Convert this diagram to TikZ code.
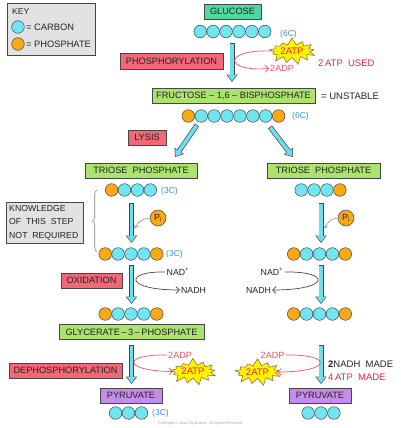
\documentclass[tikz,border=0pt]{standalone}
\usepackage{fontspec}
\setmainfont{Liberation Sans}
\usetikzlibrary{arrows.meta,shapes.symbols,decorations.pathreplacing}
\definecolor{cyanC}{RGB}{112,230,242}
\definecolor{orangeP}{RGB}{250,168,20}
\definecolor{outl}{RGB}{70,70,70}
\definecolor{greenB}{RGB}{172,226,110}
\definecolor{mintB}{RGB}{80,216,160}
\definecolor{redB}{RGB}{242,104,118}
\definecolor{purpB}{RGB}{198,140,236}
\definecolor{grayB}{RGB}{226,226,226}
\definecolor{blueT}{RGB}{60,140,225}
\definecolor{redT}{RGB}{230,35,60}
\definecolor{redL}{RGB}{238,80,100}
\definecolor{starY}{RGB}{255,242,0}
\definecolor{arrC}{RGB}{110,222,238}
\definecolor{txt}{RGB}{35,35,35}
\newcommand\crow[5]{%
  \foreach \t [count=\i] in {#5} {\node[\t] (#1\i) at ({#2+(\i-(#4+1)/2)*12.9},#3) {};}}
\newcommand\bigarrow[2]{%
  \draw[line width=5pt, draw=outl, -{Triangle[length=7.5pt,width=11pt]}] (#1) -- (#2);
  \draw[line width=3.6pt, draw=arrC, shorten <=0.7pt, shorten >=1pt, -{Triangle[length=6pt,width=8.6pt]}] (#1) -- (#2);}
\begin{document}
\begin{tikzpicture}[x=1pt,y=-1pt,
  box/.style={draw=outl, line width=0.6pt, inner sep=0pt, minimum height=15pt, text=txt, font=\fontsize{9.2}{10}\selectfont},
  greenbox/.style={box, fill=greenB},
  redbox/.style={box, fill=redB},
  purpbox/.style={box, fill=purpB},
  graybox/.style={box, fill=grayB},
  cb/.style={circle, draw=outl, line width=0.5pt, fill=cyanC, minimum size=12.6pt, inner sep=0pt},
  ph/.style={cb, fill=orangeP},
  lbl/.style={inner sep=0pt, text=txt, font=\fontsize{9}{10}\selectfont},
  clbl/.style={inner sep=0pt, text=blueT, font=\fontsize{8.5}{10}\selectfont},
  rlbl/.style={lbl, text=redT},
  burst/.style={starburst, starburst points=13, starburst point height=7.5pt, random starburst=7, fill=starY, draw=outl!60!orange, line width=0.5pt, inner sep=1.2pt, minimum width=32pt, minimum height=12pt, text=redT, font=\fontsize{9.5}{10}\selectfont},
  redcurve/.style={draw=redL, line width=0.7pt, -{Straight Barb[length=3.5pt,width=7pt]}},
  blackcurve/.style={draw=outl, line width=0.7pt, -{Straight Barb[length=3.5pt,width=7pt]}},
  picurve/.style={draw=gray, line width=0.5pt, -{Straight Barb[length=2.5pt,width=5pt]}},
  pic/.style={circle, draw=outl, line width=0.5pt, fill=orangeP, minimum size=16pt, inner sep=0pt, text=txt, font=\fontsize{9}{10}\selectfont}
]
\useasboundingbox (0,0) rectangle (400,428);

% key
\node[graybox, minimum width=88pt, minimum height=52pt] (key) at (51,29) {};
\node[lbl, anchor=west, font=\fontsize{8.5}{10}\selectfont] (keyt) at (12,12) {KEY};
\node[cb] (kc) at (18,27) {};
\node[ph] (kp) at (18,44) {};
\node[lbl, anchor=west, font=\fontsize{9.3}{10}\selectfont] (kct) at (26,27) {= CARBON};
\node[lbl, anchor=west, font=\fontsize{9.3}{10}\selectfont] (kpt) at (26,44) {= PHOSPHATE};

% glucose
\node[box, fill=mintB, minimum width=57pt] (glu) at (232.5,11.5) {GLUCOSE};
\crow{gl}{232.5}{31.5}{6}{cb,cb,cb,cb,cb,cb}
\node[clbl, anchor=west] (c6a) at (280,34) {(6C)};

\node[redbox, minimum width=103pt, minimum height=16pt] (phos) at (171.5,61) {PHOSPHORYLATION};
\coordinate (a0s) at (232,43);
\coordinate (a0e) at (232,82);
\bigarrow{a0s}{a0e}

\node[burst] (star1) at (292,51) {2ATP};
\node[lbl, text=redL] (adp1) at (282,68.5) {2ADP};
\draw[redcurve] (star1.west) .. controls (223,49) and (223,72) .. ([xshift=-1pt]adp1.west);
\node[rlbl, anchor=west, font=\fontsize{9.5}{10}\selectfont] (used) at (318,63) {2\,ATP\ \ USED};

% fructose
\node[greenbox, minimum width=163pt] (fru) at (233.5,95.5) {FRUCTOSE – 1,6 – BISPHOSPHATE};
\node[lbl, anchor=west, font=\fontsize{9.5}{10}\selectfont] (unst) at (321,96) {= UNSTABLE};
\crow{fr}{233.5}{116}{8}{ph,cb,cb,cb,cb,cb,cb,ph}
\node[clbl, anchor=west] (c6b) at (292,116) {(6C)};

\node[redbox, minimum width=38pt] (lys) at (147,137.5) {LYSIS};
\coordinate (dLs) at (197,125);
\coordinate (dLe) at (175,157);
\coordinate (dRs) at (270,127);
\coordinate (dRe) at (293,157);
\bigarrow{dLs}{dLe}
\bigarrow{dRs}{dRe}

% triose
\node[greenbox, minimum width=112pt] (triL) at (141,170.5) {TRIOSE\ \ PHOSPHATE};
\node[greenbox, minimum width=113pt] (triR) at (323.5,170.5) {TRIOSE\ \ PHOSPHATE};
\crow{tl}{131}{190}{4}{ph,cb,cb,cb}
\crow{tr}{320.5}{190}{4}{cb,cb,cb,ph}
\node[clbl, anchor=west] (c3a) at (161,191) {(3C)};

\coordinate (L1s) at (131.5,203);
\coordinate (L1e) at (131.5,243);
\coordinate (R1s) at (321,203);
\coordinate (R1e) at (321,243);
\bigarrow{L1s}{L1e}
\bigarrow{R1s}{R1e}
\node[pic] (pi1) at (158,218) {P\textsubscript{i}};
\node[pic] (pi2) at (346,218) {P\textsubscript{i}};
\coordinate (pi1t) at (135,228);
\coordinate (pi2t) at (324.5,228);
\draw[picurve] (pi1.west) to[bend right=30] (pi1t);
\draw[picurve] (pi2.west) to[bend right=30] (pi2t);

% knowledge
\node[graybox, minimum width=77pt, minimum height=41pt] (know) at (44.5,222.5) {};
\node[lbl, anchor=west, align=left, font=\fontsize{8.7}{13.5}\selectfont] (knowt) at (9,222.5) {KNOWLEDGE\\OF\ \ THIS\ \ STEP\\NOT\ \ REQUIRED};
\coordinate (brb) at (97,252);
\coordinate (brt) at (97,190);
\draw[draw=gray, line width=0.6pt, decorate, decoration={brace, amplitude=4.5pt}] (brb) -- (brt);

% row 2
\crow{rl}{131}{254}{5}{ph,cb,cb,cb,ph}
\crow{rr}{319.5}{254}{5}{ph,cb,cb,cb,ph}
\node[clbl, anchor=west] (c3b) at (166,254.5) {(3C)};

% oxidation
\node[redbox, minimum width=61pt] (oxi) at (91.5,280.5) {OXIDATION};
\coordinate (L2s) at (131.5,265);
\coordinate (L2e) at (131.5,304);
\coordinate (R2s) at (321,265);
\coordinate (R2e) at (321,304);
\bigarrow{L2s}{L2e}
\bigarrow{R2s}{R2e}
\node[lbl, font=\fontsize{8.8}{10}\selectfont] (nadp1) at (178,272) {NAD\textsuperscript{+}};
\node[lbl, font=\fontsize{8.8}{10}\selectfont] (nadh1) at (193.5,290) {NADH};
\node[lbl, font=\fontsize{8.8}{10}\selectfont] (nadp2) at (272,272) {NAD\textsuperscript{+}};
\node[lbl, font=\fontsize{8.8}{10}\selectfont] (nadh2) at (258.5,290) {NADH};
\draw[blackcurve] ([xshift=-1pt]nadp1.west) .. controls (124,271) and (124,290) .. ([xshift=-1pt]nadh1.west);
\draw[blackcurve] ([xshift=1pt]nadp2.east) .. controls (331,271) and (331,290) .. ([xshift=1pt]nadh2.east);

% row 3
\crow{sl}{131}{314}{5}{ph,cb,cb,cb,ph}
\crow{sr}{319.5}{314}{5}{ph,cb,cb,cb,ph}

\node[greenbox, minimum width=145pt] (gly) at (131.5,332) {GLYCERATE\,–\,3\,–\,PHOSPHATE};

% dephosphorylation
\node[redbox, minimum width=113pt] (deph) at (65.5,370.5) {DEPHOSPHORYLATION};
\coordinate (L3s) at (131.5,345);
\coordinate (L3e) at (131.5,384);
\coordinate (R3s) at (321,345);
\coordinate (R3e) at (321,384);
\bigarrow{L3s}{L3e}
\bigarrow{R3s}{R3e}
\node[burst] (star2) at (193,371.5) {2ATP};
\node[burst] (star3) at (257.5,372) {2ATP};
\node[lbl, text=redL] (adp2) at (180,355) {2ADP};
\node[lbl, text=redL] (adp3) at (272.5,355) {2ADP};
\draw[redcurve] ([xshift=-1pt]adp2.west) .. controls (122,354) and (122,371) .. (star2.west);
\draw[redcurve] ([xshift=1pt]adp3.east) .. controls (333,354) and (333,372) .. (star3.east);
\node[lbl, anchor=west, font=\fontsize{9.5}{10}\selectfont] (nadhm) at (328,364) {\textbf{2}NADH\ \ MADE};
\node[rlbl, anchor=west, font=\fontsize{9.5}{10}\selectfont] (atpm) at (328,377) {4\,ATP\ \ MADE};

% pyruvate
\node[purpbox, minimum width=62pt] (pyrL) at (131,395.5) {PYRUVATE};
\node[purpbox, minimum width=62pt] (pyrR) at (320,395.5) {PYRUVATE};
\crow{pl}{128.5}{413}{3}{cb,cb,cb}
\crow{pr}{321}{413}{3}{cb,cb,cb}
\node[clbl, anchor=west] (c3c) at (152,413.5) {(3C)};

\node[inner sep=0pt, text=gray!70, font=\fontsize{3.8}{4}\selectfont] (copy) at (200,424) {Copyright © Save My Exams. All Rights Reserved};
\end{tikzpicture}
\end{document}
